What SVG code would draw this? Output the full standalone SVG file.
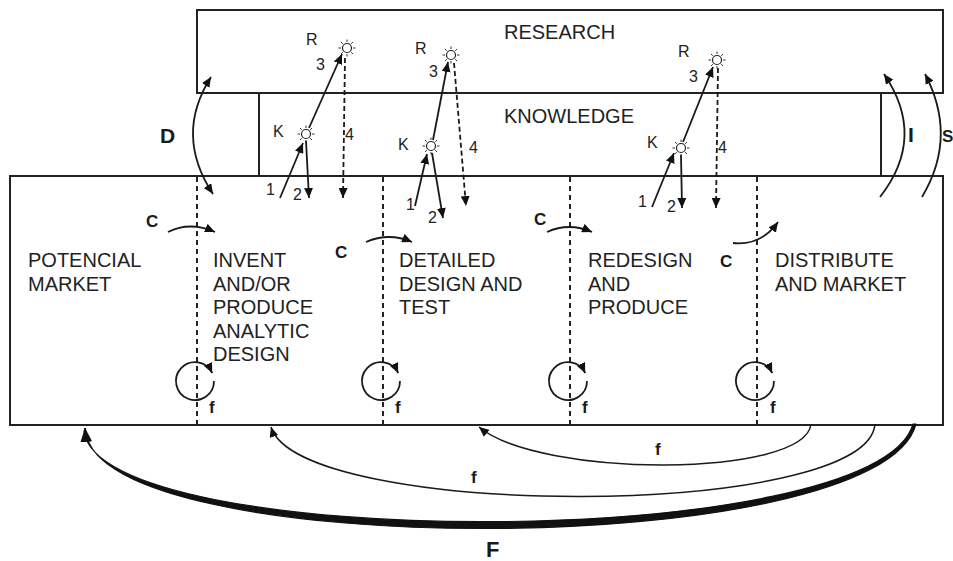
<svg xmlns="http://www.w3.org/2000/svg" width="953" height="561" viewBox="0 0 953 561">
<style>
.box{fill:none;stroke:#222;stroke-width:2}
.dash{fill:none;stroke:#222;stroke-width:2;stroke-dasharray:5 4}
.ln{fill:none;stroke:#1a1a1a;stroke-width:1.8}
.ln4{fill:none;stroke:#1a1a1a;stroke-width:1.8;stroke-dasharray:5 3}
.big{font-family:"Liberation Sans",Arial,sans-serif;font-size:20px;fill:#222}
.sm{font-family:"Liberation Sans",Arial,sans-serif;font-size:16px;fill:#222}
.bc{font-family:"Liberation Sans",Arial,sans-serif;font-size:17px;font-weight:bold;fill:#1a1a1a}
.bl{font-family:"Liberation Sans",Arial,sans-serif;font-size:21px;font-weight:bold;fill:#1a1a1a}
</style>
<defs>
<marker id="ah" markerUnits="userSpaceOnUse" markerWidth="11" markerHeight="9" refX="10" refY="4.5" orient="auto-start-reverse">
<path d="M0,0 L10,4.5 L0,9 z" fill="#111"/>
</marker>
<marker id="ahB" markerUnits="userSpaceOnUse" markerWidth="15" markerHeight="12" refX="14" refY="6" orient="auto">
<path d="M0,0 L14,6 L0,12 z" fill="#111"/>
</marker>
<g id="sun">
<path d="M0,-6V-8.5M0,6V8.5M-6,0H-8.5M6,0H8.5M4.2,-4.2L6,-6M-4.2,-4.2L-6,-6M4.2,4.2L6,6M-4.2,4.2L-6,6" stroke="#333" stroke-width="1"/>
<circle r="4.5" fill="#fff" stroke="#222" stroke-width="1.2"/>
</g>
</defs>
<rect width="953" height="561" fill="#fff"/>

<g id="research">
<rect class="box" x="197" y="10" width="746" height="83"/>
<text class="big" x="504" y="39">RESEARCH</text>
</g>
<g id="knowledge">
<rect class="box" x="259" y="93" width="622" height="83"/>
<text class="big" x="504" y="123">KNOWLEDGE</text>
</g>
<g id="process">
<rect class="box" x="10" y="176" width="933" height="249"/>
<line class="dash" x1="197" y1="177" x2="197" y2="425"/>
<line class="dash" x1="383" y1="177" x2="383" y2="425"/>
<line class="dash" x1="570" y1="177" x2="570" y2="425"/>
<line class="dash" x1="757" y1="177" x2="757" y2="425"/>
</g>
<g id="stage-market">
<text class="big" x="28" y="267">POTENCIAL</text>
<text class="big" x="28" y="290.5">MARKET</text>
</g>
<g id="stage-invent">
<text class="big" x="213" y="267">INVENT</text>
<text class="big" x="213" y="290.5">AND/OR</text>
<text class="big" x="213" y="314">PRODUCE</text>
<text class="big" x="213" y="337.5">ANALYTIC</text>
<text class="big" x="213" y="361">DESIGN</text>
</g>
<g id="stage-detailed">
<text class="big" x="399" y="267">DETAILED</text>
<text class="big" x="399" y="290.5">DESIGN AND</text>
<text class="big" x="399" y="314">TEST</text>
</g>
<g id="stage-redesign">
<text class="big" x="588" y="267">REDESIGN</text>
<text class="big" x="588" y="290.5">AND</text>
<text class="big" x="588" y="314">PRODUCE</text>
</g>
<g id="stage-distribute">
<text class="big" x="775" y="267">DISTRIBUTE</text>
<text class="big" x="775" y="290.5">AND MARKET</text>
</g>

<g id="node-R1"><use href="#sun" x="347" y="48"/><text class="sm" x="306" y="45">R</text></g>
<g id="node-K1"><use href="#sun" x="306" y="134"/><text class="sm" x="273" y="137">K</text></g>
<g id="node-R2"><use href="#sun" x="451" y="55"/><text class="sm" x="415" y="54">R</text></g>
<g id="node-K2"><use href="#sun" x="431" y="146"/><text class="sm" x="398" y="150">K</text></g>
<g id="node-R3"><use href="#sun" x="717" y="60"/><text class="sm" x="678" y="57">R</text></g>
<g id="node-K3"><use href="#sun" x="681" y="148"/><text class="sm" x="647" y="148">K</text></g>

<g id="connectors">
<!-- group 1 -->
<line class="ln" x1="280" y1="198" x2="303" y2="143" marker-end="url(#ah)"/>
<line class="ln" x1="306" y1="141" x2="309" y2="198" marker-end="url(#ah)"/>
<line class="ln" x1="309" y1="128" x2="342" y2="54" marker-end="url(#ah)"/>
<line class="ln4" x1="345" y1="58" x2="343" y2="198" marker-end="url(#ah)"/>
<text class="sm" x="266" y="195">1</text>
<text class="sm" x="293" y="200">2</text>
<text class="sm" x="316" y="70">3</text>
<text class="sm" x="345" y="140">4</text>
<!-- group 2 -->
<line class="ln" x1="415" y1="206" x2="427" y2="154" marker-end="url(#ah)"/>
<line class="ln" x1="432" y1="153" x2="443" y2="218" marker-end="url(#ah)"/>
<line class="ln" x1="433" y1="140" x2="448" y2="62" marker-end="url(#ah)"/>
<line class="ln4" x1="454" y1="63" x2="466" y2="206" marker-end="url(#ah)"/>
<text class="sm" x="406" y="210">1</text>
<text class="sm" x="428" y="223">2</text>
<text class="sm" x="429" y="77">3</text>
<text class="sm" x="469" y="153">4</text>
<!-- group 3 -->
<line class="ln" x1="652" y1="207" x2="674" y2="153" marker-end="url(#ah)"/>
<line class="ln" x1="681" y1="155" x2="682" y2="208" marker-end="url(#ah)"/>
<line class="ln" x1="683" y1="142" x2="713" y2="67" marker-end="url(#ah)"/>
<line class="ln4" x1="718" y1="68" x2="716" y2="208" marker-end="url(#ah)"/>
<text class="sm" x="638" y="207">1</text>
<text class="sm" x="667" y="212">2</text>
<text class="sm" x="689" y="82">3</text>
<text class="sm" x="718" y="153">4</text>

<!-- D, I, S -->
<path class="ln" d="M211,77 Q174,135 213,194" marker-start="url(#ah)" marker-end="url(#ah)"/>
<text class="bl" x="160" y="143">D</text>
<path class="ln" d="M880,197 Q927,137 884,74" marker-end="url(#ah)"/>
<text class="bl" x="908" y="142">I</text>
<path class="ln" d="M922,197 Q958,137 925,74" marker-end="url(#ah)"/>
<text class="bl" x="942" y="142" style="font-size:17px">S</text>

<!-- C arrows -->
<path class="ln" d="M168,232 Q190,221 215,232" marker-end="url(#ah)"/>
<text class="bc" x="146" y="227">C</text>
<path class="ln" d="M366,242 Q389,232 412,242" marker-end="url(#ah)"/>
<text class="bc" x="335" y="258">C</text>
<path class="ln" d="M547,232 Q569,222 592,232" marker-end="url(#ah)"/>
<text class="bc" x="534" y="225">C</text>
<path class="ln" d="M733,243 Q761,246 778,222" marker-end="url(#ah)"/>
<text class="bc" x="720" y="267">C</text>

<!-- f loops -->
<path class="ln" d="M214,381 A19,19 0 1 1 212.2,373" marker-end="url(#ah)"/>
<path class="ln" d="M400,381 A19,19 0 1 1 398.2,373" marker-end="url(#ah)"/>
<path class="ln" d="M587,381 A19,19 0 1 1 585.2,373" marker-end="url(#ah)"/>
<path class="ln" d="M774,381 A19,19 0 1 1 772.2,373" marker-end="url(#ah)"/>
<text class="bc" x="209" y="413">f</text>
<text class="bc" x="395" y="413">f</text>
<text class="bc" x="582" y="413">f</text>
<text class="bc" x="770" y="413">f</text>

<!-- feedback arcs -->
<path class="ln" style="stroke-width:1.5" d="M811,424 C805,478 540,478 479,427" marker-end="url(#ah)"/>
<text class="bc" x="655" y="455">f</text>
<path class="ln" style="stroke-width:1.5" d="M875,424 C868,520 300,520 271,427" marker-end="url(#ah)"/>
<text class="bc" x="471" y="483">f</text>
<path d="M916,424 C880,562 100,562 86,432 L84,431 C98,553 878,553 913,424 Z" fill="#111" stroke="#111" stroke-width="1.2" stroke-linejoin="round"/>
<path d="M86.2,441 L85,428" fill="none" stroke="#111" stroke-width="2" marker-end="url(#ahB)"/>
<text class="bl" x="486" y="557" style="font-size:22px">F</text>
</g>
</svg>
